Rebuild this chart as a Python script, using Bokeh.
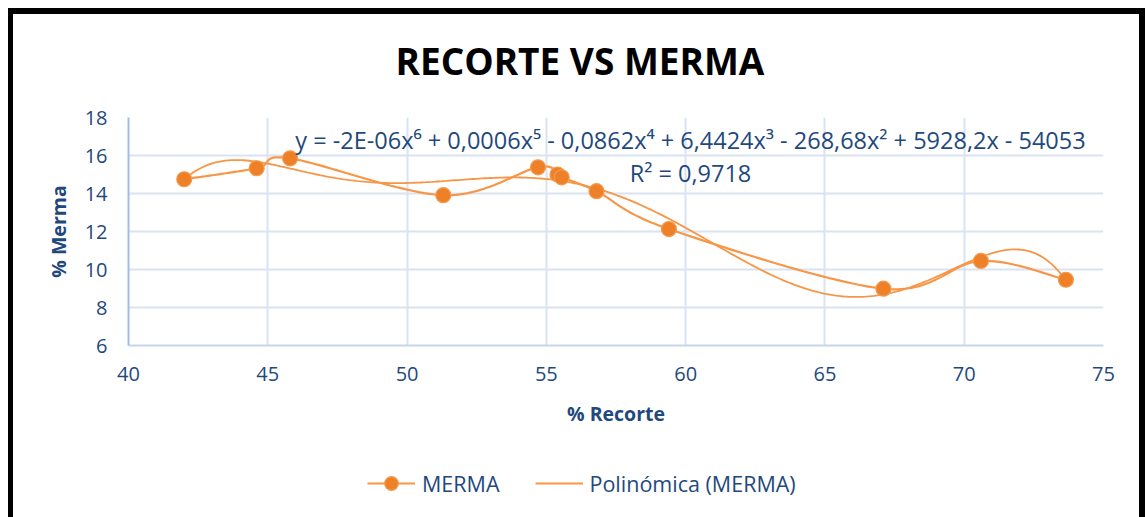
import numpy as np
from bokeh.plotting import figure
from bokeh.layouts import column
from bokeh.models import Label, Legend, LegendItem, FixedTicker, Range1d, Title
from bokeh.embed import file_html
from bokeh.resources import INLINE

# ---- data ----
recorte = [42.0, 44.6, 45.8, 51.3, 54.7, 55.4, 55.55, 56.8, 59.4, 67.1, 70.6, 73.65]
merma = [14.75, 15.33, 15.85, 13.91, 15.38, 15.0, 14.85, 14.12, 12.13, 8.99, 10.45, 9.46]
x_ticks = [40, 45, 50, 55, 60, 65, 70, 75]
y_ticks = [6, 8, 10, 12, 14, 16, 18]
title_text = "RECORTE VS MERMA"
equation_text = "y = -2E-06x\u2076 + 0,0006x\u2075 - 0,0862x\u2074 + 6,4424x\u00b3 - 268,68x\u00b2 + 5928,2x - 54053"
r2_text = "R\u00b2 = 0,9718"
series_name = "MERMA"
trend_name = "Polin\u00f3mica (MERMA)"

TXT = "#1F497D"
ORANGE_LINE = "#F79646"
ORANGE_MARK = "#EE8128"
MARK_EDGE = "#F39A4E"
FONT = "Open Sans"


def excel_smooth(xs, ys, n=30):
    P = np.column_stack([xs, ys]).astype(float)
    out = []
    for i in range(len(P) - 1):
        p0 = P[i - 1] if i > 0 else P[i]
        p1, p2 = P[i], P[i + 1]
        p3 = P[i + 2] if i + 2 < len(P) else P[i + 1]
        c1 = p1 + (p2 - p0) / 6.0
        c2 = p2 - (p3 - p1) / 6.0
        t = np.linspace(0, 1, n)[:, None]
        seg = (1 - t) ** 3 * p1 + 3 * (1 - t) ** 2 * t * c1 + 3 * (1 - t) * t ** 2 * c2 + t ** 3 * p2
        out.append(seg if i == 0 else seg[1:])
    s = np.vstack(out)
    return s[:, 0], s[:, 1]


poly = np.polynomial.Polynomial.fit(recorte, merma, 6)
tx = np.linspace(min(recorte), max(recorte), 300)
sx, sy = excel_smooth(recorte, merma)

# ---------------- main chart ----------------
p = figure(width=1145, height=460, output_backend="svg", toolbar_location=None,
           x_range=Range1d(40, 75), y_range=Range1d(6, 18),
           min_border_left=128, min_border_right=42, min_border_top=116, min_border_bottom=115,
           border_fill_color=None, background_fill_color="white", outline_line_color=None)

p.title = Title(text=title_text, align="left", offset=267, standoff=64,
                text_font=FONT, text_font_size="37px", text_font_style="bold",
                text_color="#000000")

for ax in (p.xaxis[0], p.yaxis[0]):
    ax.major_tick_out = 0
    ax.major_tick_in = 0
    ax.minor_tick_out = 0
    ax.minor_tick_in = 0
    ax.major_label_text_font = FONT
    ax.major_label_text_font_size = "20px"
    ax.major_label_text_color = TXT
    ax.axis_label_text_font = FONT
    ax.axis_label_text_font_size = "19.5px"
    ax.axis_label_text_font_style = "bold"
    ax.axis_label_text_color = TXT

p.xaxis.ticker = FixedTicker(ticks=x_ticks)
p.yaxis.ticker = FixedTicker(ticks=y_ticks)
p.xaxis.axis_label = "% Recorte"
p.yaxis.axis_label = "% Merma"
p.xaxis.major_label_standoff = 21
p.xaxis.axis_label_standoff = 16
p.yaxis.major_label_standoff = 21
p.yaxis.axis_label_standoff = 10
p.xaxis.axis_line_color = "#C5D6EE"
p.xaxis.axis_line_width = 2
p.yaxis.axis_line_color = "#9DBDE6"
p.yaxis.axis_line_width = 2

p.grid.grid_line_color = "#D9E3F2"
p.grid.grid_line_width = 2
p.xgrid.ticker = FixedTicker(ticks=x_ticks)
p.ygrid.ticker = FixedTicker(ticks=y_ticks)

# trendline (6th degree polynomial fitted to the data)
p.line(tx, poly(tx), line_color=ORANGE_LINE, line_width=1.8)
# smoothed series with markers
p.line(sx, sy, line_color=ORANGE_LINE, line_width=2.2)
p.scatter(recorte, merma, size=15, fill_color=ORANGE_MARK, line_color=MARK_EDGE, line_width=1.2)

p.add_layout(Label(x=562, y=206, x_units="screen", y_units="screen", text=equation_text,
                   text_font=FONT, text_font_size="23.5px", text_color=TXT,
                   text_align="center", text_baseline="middle"))
p.add_layout(Label(x=562, y=173, x_units="screen", y_units="screen", text=r2_text,
                   text_font=FONT, text_font_size="23.5px", text_color=TXT,
                   text_align="center", text_baseline="middle"))

# ---------------- legend strip (same series, outside its visible range) ----------------
q = figure(width=1145, height=57, output_backend="svg", toolbar_location=None,
           x_range=Range1d(0, 1), y_range=Range1d(0, 1),
           min_border_left=0, min_border_right=0, min_border_top=0, min_border_bottom=0,
           border_fill_color=None, background_fill_color=None, outline_line_color=None,
           x_axis_type=None, y_axis_type=None)
q.grid.visible = False
lg_line = q.line(sx, sy, line_color=ORANGE_LINE, line_width=2.2)
lg_mark = q.scatter(recorte, merma, size=15, fill_color=ORANGE_MARK, line_color=MARK_EDGE, line_width=1.2)
lg_trend = q.line(tx, poly(tx), line_color=ORANGE_LINE, line_width=1.8)

legend = Legend(items=[LegendItem(label=series_name, renderers=[lg_line, lg_mark]),
                       LegendItem(label=trend_name, renderers=[lg_trend])],
                location=(239, 17), orientation="horizontal",
                padding=0, margin=0, spacing=35, glyph_width=48, glyph_height=34,
                label_height=34, label_standoff=7, label_text_font=FONT,
                label_text_font_size="21.5px", label_text_color=TXT,
                border_line_color=None, background_fill_color=None)
q.add_layout(legend, "center")

page = column(p, q, spacing=0,
              styles={"box-shadow": "inset 8px 8px 0 0 #ffffff, inset 13px 14px 0 0 #000000, inset -6px 0 0 0 #000000"})

open("out.html", "w").write(file_html(page, INLINE))
